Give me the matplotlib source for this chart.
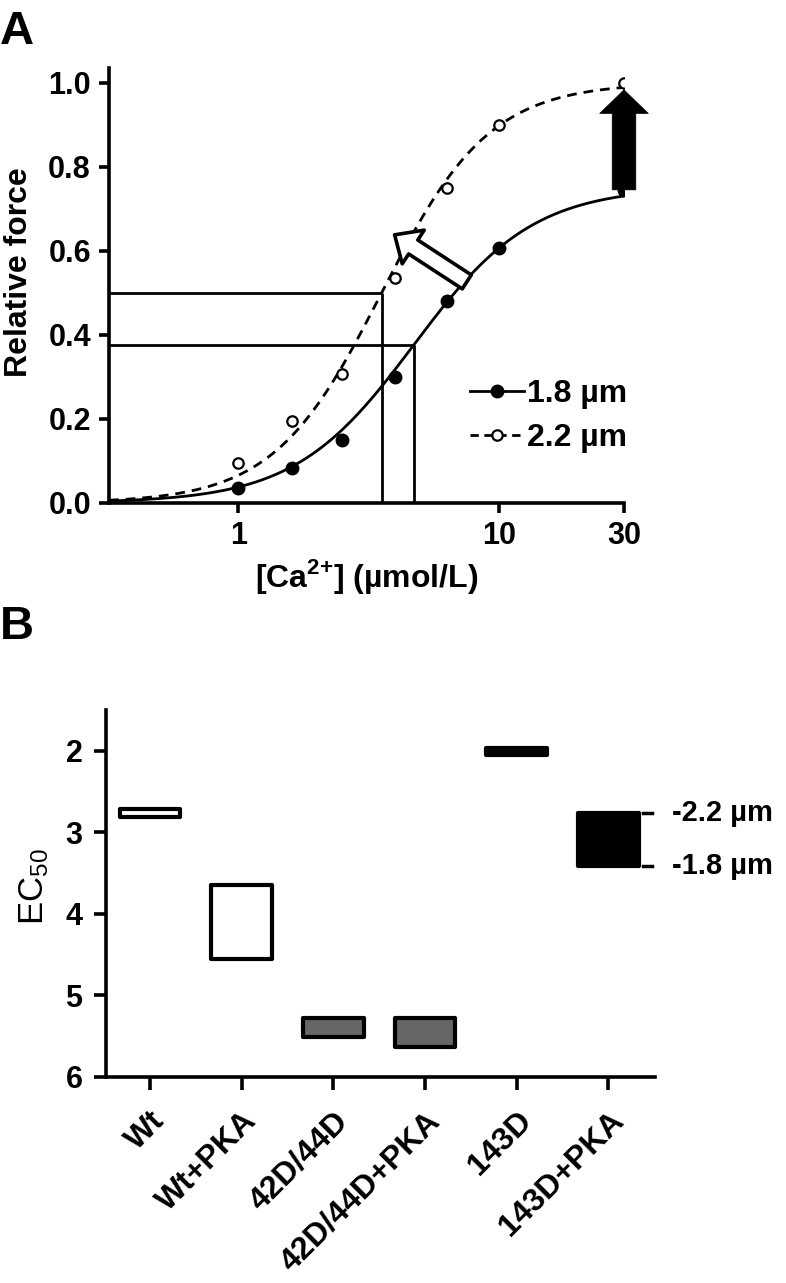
import numpy as np
import matplotlib
matplotlib.use('Agg')
import matplotlib.pyplot as plt
from matplotlib.patches import FancyArrowPatch
from matplotlib.ticker import NullLocator

plt.rcParams['font.family'] = ['Liberation Sans', 'DejaVu Sans']
plt.rcParams['font.weight'] = 'bold'
plt.rcParams['mathtext.fontset'] = 'custom'
plt.rcParams['mathtext.rm'] = 'Liberation Sans'
plt.rcParams['mathtext.bf'] = 'Liberation Sans:bold'

# panel A: force-pCa data for two sarcomere lengths
ca = [1, 1.6, 2.5, 4, 6.3, 10, 30]
force_18 = [0.036, 0.083, 0.15, 0.30, 0.48, 0.607, 0.745]
force_22 = [0.095, 0.195, 0.307, 0.536, 0.75, 0.90, 1.0]
# Hill fit parameters: (fmax, ec50, hill coefficient)
fit_18 = (0.752, 4.70, 1.9)
fit_22 = (1.0, 3.54, 2.1)
series_labels = ['1.8 µm', '2.2 µm']

# panel B: EC50 range (1.8 -> 2.2 um) per construct
groups = ['Wt', 'Wt+PKA', '42D/44D', '42D/44D+PKA', '143D', '143D+PKA']
ec50_lo = [2.71, 3.64, 5.28, 5.28, 1.96, 2.76]
ec50_hi = [2.81, 4.55, 5.51, 5.63, 2.05, 3.41]
box_fill = ['white', 'white', '#666666', '#666666', 'black', 'black']


def hill(x, fmax, ec50, n):
    return fmax * x**n / (x**n + ec50**n)


fig = plt.figure(figsize=(7.86, 12.83), dpi=100)

# ---------------- panel A ----------------
ax = fig.add_axes([0.1387, 0.6080, 0.6552, 0.3390])
xmin, xmax = 0.32, 30
xs = np.geomspace(xmin, xmax, 300)

ax.plot(xs, hill(xs, *fit_18), color='black', lw=2.0, zorder=3)
ax.plot(xs, hill(xs, *fit_22), color='black', lw=2.0, ls=(0, (3.5, 2.5)), zorder=3)
ax.plot(ca, force_18, 'o', color='black', ms=9, zorder=4)
ax.plot(ca, force_22, 'o', mfc='white', mec='black', mew=1.6, ms=7.5, zorder=4)

# legend handles
h1, = ax.plot([], [], '-o', color='black', lw=2.0, ms=9)
h2, = ax.plot([], [], 'o', ls=(0, (3, 2)), color='black', mfc='white', mew=1.6, lw=2.0, ms=7.5)
ax.legend([h1, h2], series_labels, loc='upper left', bbox_to_anchor=(0.70, 0.285),
          frameon=False, fontsize=23, handlelength=1.7, handletextpad=0.1,
          labelspacing=0.45, borderpad=0, borderaxespad=0)

# EC50 guide lines
for fmax, ec50, n in (fit_18, fit_22):
    ax.hlines(fmax / 2, xmin, ec50, color='black', lw=2.0, zorder=2)
    ax.vlines(ec50, 0, fmax / 2, color='black', lw=2.0, zorder=2)

# open arrow (leftward shift) and filled arrow (max force increase)
ax.add_patch(FancyArrowPatch((7.5, 0.526), (3.97, 0.638),
                             arrowstyle='simple,head_length=16,head_width=29,tail_width=12',
                             mutation_scale=1, fc='white', ec='black', lw=2.6,
                             shrinkA=0, shrinkB=0, zorder=5))
ax.add_patch(FancyArrowPatch((30, force_18[-1]), (30, 0.983),
                             arrowstyle='simple,head_length=17,head_width=35,tail_width=17',
                             mutation_scale=1, fc='black', ec='black', lw=0.5,
                             shrinkA=0, shrinkB=0, zorder=5, clip_on=False))

ax.set_xscale('log')
ax.set_xlim(xmin, xmax)
ax.set_ylim(0, 1.035)
ax.set_xticks([1, 10, 30])
ax.set_xticklabels(['1', '10', '30'])
ax.xaxis.set_minor_locator(NullLocator())
ax.set_yticks(np.arange(0, 1.01, 0.2))
ax.set_yticklabels([f'{v:.1f}' for v in np.arange(0, 1.01, 0.2)])
for s in ['top', 'right']:
    ax.spines[s].set_visible(False)
for s in ['left', 'bottom']:
    ax.spines[s].set_linewidth(2.6)
ax.tick_params(width=2.6, length=7, labelsize=22, pad=6)
ax.set_ylabel('Relative force', fontsize=23, fontweight='bold')
ax.yaxis.set_label_coords(-0.145, 0.53)
ax.set_xlabel(r'[Ca$^{\mathbf{2{+}}}$] (µmol/L)', fontsize=23, fontweight='bold')
ax.xaxis.set_label_coords(0.50, -0.125)

fig.text(0.0, 1 - 10 / 1283, 'A', fontsize=34, fontweight='bold', ha='left', va='top')
fig.text(0.0, 1 - 605 / 1283, 'B', fontsize=34, fontweight='bold', ha='left', va='top')

# ---------------- panel B ----------------
bx = fig.add_axes([0.1349, 0.1606, 0.6985, 0.2860])
pos = np.arange(len(groups))
heights = np.array(ec50_hi) - np.array(ec50_lo)
bars = bx.bar(pos, heights, bottom=ec50_lo, width=0.66, color=box_fill,
              edgecolor='black', linewidth=3.0)
for b in bars:
    b.set_joinstyle('round')

# sarcomere-length markers for last box
last = len(groups) - 1
for yv, lab in ((ec50_lo[last], '-2.2 µm'), (ec50_hi[last], '-1.8 µm')):
    bx.plot([last + 0.38, last + 0.48], [yv, yv], color='black', lw=2.5, clip_on=False)
    bx.text(last + 0.69, yv, lab, fontsize=21, fontweight='bold', ha='left', va='center')

bx.set_xlim(-0.48, 5.51)
bx.set_ylim(6, 1.5)
bx.set_yticks([2, 3, 4, 5, 6])
bx.set_xticks(pos)
bx.set_xticklabels(groups, rotation=45, ha='right', va='top', rotation_mode='anchor')
for s in ['top', 'right']:
    bx.spines[s].set_visible(False)
for s in ['left', 'bottom']:
    bx.spines[s].set_linewidth(2.6)
bx.tick_params(width=2.6, length=9, labelsize=22, pad=8)
bx.tick_params(axis='x', labelsize=23, pad=12)
bx.set_ylabel(r'EC$\mathregular{_{50}}$', fontsize=25, fontweight='normal')
bx.yaxis.set_label_coords(-0.10, 0.52)

fig.savefig('out.png', dpi=100)
